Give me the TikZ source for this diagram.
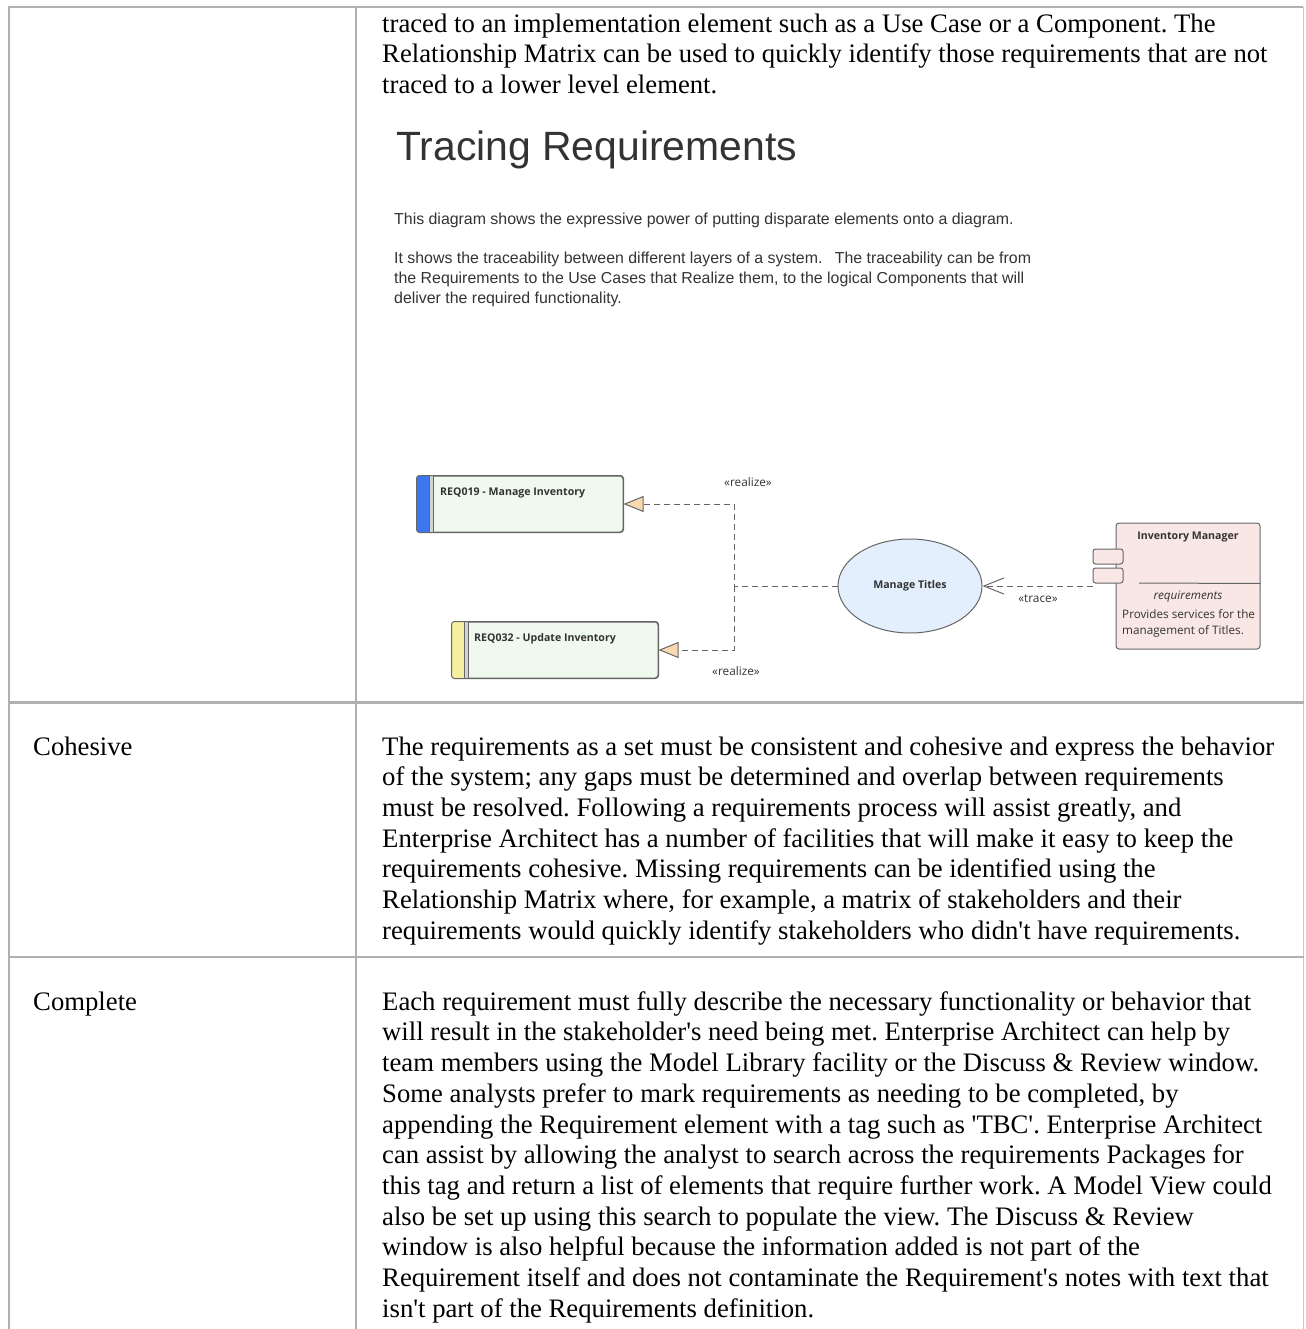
\documentclass[tikz,border=0pt]{standalone}
\usepackage{fontspec}
\newfontfamily\bodyfont{Liberation Serif}
\newfontfamily\titlefont{Liberation Sans}
\newfontfamily\umlfont{Open Sans}
\usetikzlibrary{arrows.meta,shapes.geometric}

\definecolor{rulegray}{RGB}{176,176,176}
\definecolor{umlline}{RGB}{102,102,102}
\definecolor{umltext}{RGB}{51,51,51}
\definecolor{reqfill}{RGB}{240,249,238}
\definecolor{reqblue}{RGB}{59,120,240}
\definecolor{reqyellow}{RGB}{245,240,160}
\definecolor{ucfill}{RGB}{227,239,252}
\definecolor{compfill}{RGB}{248,231,229}
\definecolor{tipfill}{RGB}{249,217,176}

\tikzset{
  bodytext/.style={font=\bodyfont\fontsize{26.7}{30.7}\selectfont\frenchspacing,
    align=left, inner sep=0pt, anchor=north west},
  notetext/.style={font=\titlefont\fontsize{15.9}{20}\selectfont\frenchspacing,
    text=umltext, align=left, inner sep=0pt, anchor=north west},
  reqbox/.style={draw=umlline, fill=reqfill, rounded corners=3pt,
    minimum width=206pt, minimum height=56pt, line width=1pt},
  usecase/.style={ellipse, draw=umlline, fill=ucfill, line width=1pt,
    minimum width=144pt, minimum height=94pt, inner sep=0pt,
    text height=6pt, text depth=2pt,
    font=\umlfont\bfseries\fontsize{10.6}{12}\selectfont, text=umltext},
  compbox/.style={draw=umlline, fill=compfill, rounded corners=3pt,
    minimum width=144pt, minimum height=126pt, line width=1pt},
  portbox/.style={draw=umlline, fill=compfill, rounded corners=2.5pt,
    minimum width=30pt, minimum height=15pt, inner sep=0pt, line width=1pt},
  umllabel/.style={font=\umlfont\fontsize{11.7}{16}\selectfont,
    text=umltext, inner sep=0pt},
  umlbold/.style={font=\umlfont\bfseries\fontsize{10.6}{12}\selectfont,
    text=umltext, inner sep=0pt},
  stereo/.style={font=\umlfont\fontsize{11.8}{13}\selectfont,
    text=umltext, inner sep=0pt},
  realize/.style={draw=umlline, line width=1pt, dash pattern=on 6pt off 4pt,
    -{Triangle[open, length=20pt, width=16pt, fill=tipfill]}},
  trace/.style={draw=umlline, line width=1pt, dash pattern=on 6pt off 4pt,
    -{Straight Barb[length=20pt, width=16pt]}}
}

\begin{document}
\begin{tikzpicture}[x=1pt,y=-1pt]
  \useasboundingbox (0,0) rectangle (1305,1329);

  % table rules
  \draw[rulegray, line width=2pt] (8.5,1329) -- (8.5,7) -- (1303,7);
  \draw[rulegray, line width=1.5pt] (356,7) -- (356,1329);
  \draw[rulegray!70, line width=1pt] (1303,7) -- (1303,1329);
  \draw[rulegray, line width=2.5pt] (8,702.5) -- (1304,702.5);
  \draw[rulegray, line width=2.5pt] (8,957) -- (1304,957);

  % first row
  \node[bodytext] (rowtop) at (382,10.5)
    {\strut traced to an implementation element such as a Use Case or a Component. The\\
     Relationship Matrix can be used to quickly identify those requirements that are not\\
     traced to a lower level element.};

  % diagram
  \node[font=\titlefont\fontsize{40.9}{46}\selectfont, text=umltext,
    inner sep=0pt, anchor=base west] (dtitle) at (396,161) {Tracing Requirements};
  \node[notetext] (note1) at (394,210)
    {\strut This diagram shows the expressive power of putting disparate elements onto a diagram.};
  \node[notetext] (note2) at (394,249)
    {\strut It shows the traceability between different layers of a system.\enspace\ The traceability can be from\\
     the Requirements to the Use Cases that Realize them, to the logical Components that will\\
     deliver the required functionality.};

  \node[reqbox] (req19) at (520,504) {};
  \begin{scope}
    \clip[rounded corners=3pt] (req19.north west) rectangle (req19.south east);
    \fill[reqblue] (req19.north west) rectangle ([xshift=13pt]req19.south west);
  \end{scope}
  \draw[umlline, fill=gray!35, line width=0.8pt]
    ([xshift=13pt]req19.north west) rectangle ([xshift=17pt]req19.south west);
  \draw[umlline, line width=1pt, rounded corners=3pt]
    (req19.north west) rectangle (req19.south east);
  \node[umlbold, anchor=west] (req19t) at (440,493) {REQ019 - Manage Inventory};

  \node[reqbox] (req32) at (555,650) {};
  \begin{scope}
    \clip[rounded corners=3pt] (req32.north west) rectangle (req32.south east);
    \fill[reqyellow] (req32.north west) rectangle ([xshift=13pt]req32.south west);
  \end{scope}
  \draw[umlline, fill=gray!35, line width=0.8pt]
    ([xshift=13pt]req32.north west) rectangle ([xshift=17pt]req32.south west);
  \draw[umlline, line width=1pt, rounded corners=3pt]
    (req32.north west) rectangle (req32.south east);
  \node[umlbold, anchor=west] (req32t) at (474,639) {REQ032 - Update Inventory};

  \node[usecase] (mtitles) at (910,586) {Manage Titles};

  \node[compbox] (invmgr) at (1188,586) {};
  \node[portbox] (port1) at (1108,556.5) {};
  \node[portbox] (port2) at (1108,575.5) {};
  \draw[umlline, line width=1pt] (1139,583) -- (invmgr.east |- port2.south);
  \node[umlbold] (invmgrt) at (1188,537) {Inventory Manager};
  \node[umllabel, font=\umlfont\itshape\fontsize{11.7}{16}\selectfont]
    (invreq) at (1188,597) {requirements};
  \node[umllabel, align=left, anchor=north west]
    (invnote) at (1122,607) {\strut Provides services for the\\management of Titles.};

  % connectors
  \coordinate (jn) at (734,586);
  \draw[realize] (mtitles.west) -- (jn) |- (req19.east);
  \draw[realize] (jn) |- (req32.east);
  \draw[trace] (port2.west |- mtitles.east) -- (mtitles.east);
  \node[stereo] (rlz1) at (748,482) {«realize»};
  \node[stereo] (rlz2) at (736,671) {«realize»};
  \node[stereo] (trc) at (1038,598.5) {«trace»};

  % second row
  \node[bodytext] (cohname) at (33,733.5) {\strut Cohesive};
  \node[bodytext] (cohtext) at (382,733.5)
    {\strut The requirements as a set must be consistent and cohesive and express the behavior\\
     of the system; any gaps must be determined and overlap between requirements\\
     must be resolved. Following a requirements process will assist greatly, and\\
     Enterprise Architect has a number of facilities that will make it easy to keep the\\
     requirements cohesive. Missing requirements can be identified using the\\
     Relationship Matrix where, for example, a matrix of stakeholders and their\\
     requirements would quickly identify stakeholders who didn't have requirements.};

  % third row
  \node[bodytext] (cmpname) at (33,988.5) {\strut Complete};
  \node[bodytext] (cmptext) at (382,988.5)
    {\strut Each requirement must fully describe the necessary functionality or behavior that\\
     will result in the stakeholder's need being met. Enterprise Architect can help by\\
     team members using the Model Library facility or the Discuss \& Review window.\\
     Some analysts prefer to mark requirements as needing to be completed, by\\
     appending the Requirement element with a tag such as 'TBC'. Enterprise Architect\\
     can assist by allowing the analyst to search across the requirements Packages for\\
     this tag and return a list of elements that require further work. A Model View could\\
     also be set up using this search to populate the view. The Discuss \& Review\\
     window is also helpful because the information added is not part of the\\
     Requirement itself and does not contaminate the Requirement's notes with text that\\
     isn't part of the Requirements definition.};
\end{tikzpicture}
\end{document}
